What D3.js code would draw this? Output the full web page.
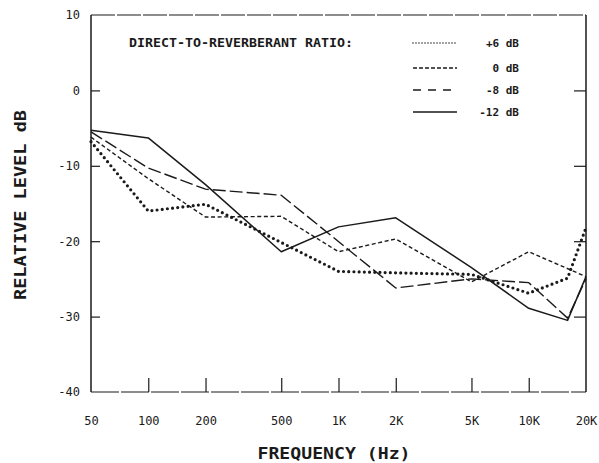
<!DOCTYPE html>
<html>
<head>
<meta charset="utf-8">
<script src="https://cdn.jsdelivr.net/npm/d3@7"></script>
<style>
  html, body { margin: 0; padding: 0; background: #fff; }
  svg { display: block; }
  text { font-family: "DejaVu Sans Mono", monospace; fill: #1a1a1a; }
</style>
</head>
<body>
<svg id="chart" width="599" height="463"></svg>
<script>
// Frequencies (Hz) at which levels were measured
const freqs = [50, 100, 200, 500, 1000, 2000, 5000, 10000, 16000, 20000];

// Relative level (dB) for each direct-to-reverberant ratio; null = no point
const plus6  = [-6.8, -16.0, -15.1, null, -24.0, -24.2, -24.4, -26.9, -24.9, -18.2];
const zero   = [-6.2, -11.7, -16.8, -16.7, -21.4, -19.7, -25.4, -21.4, null, -24.7];
const minus8 = [-5.5, -10.3, -13.1, -13.9, null, -26.2, -25.0, -25.5, -30.2, -25.0];
const minus12 = [-5.3, -6.3, -12.5, -21.4, -18.1, -16.9, -23.5, -28.9, -30.5, -24.7];

const seriesNames = ["+6 dB", "0 dB", "-8 dB", "-12 dB"];
const seriesValues = [plus6, zero, minus8, minus12];

const xTickValues = [50, 100, 200, 500, 1000, 2000, 5000, 10000, 20000];
const xTickLabels = ["50", "100", "200", "500", "1K", "2K", "5K", "10K", "20K"];
const yTickValues = [10, 0, -10, -20, -30, -40];

const styles = [
  { width: 3.2, dash: "0,5.2", cap: "round" },
  { width: 1.4, dash: "4,2.6", cap: "butt" },
  { width: 1.4, dash: "13,4", cap: "butt" },
  { width: 1.5, dash: null, cap: "butt" }
];
const legendStyles = [
  { width: 1.5, dash: "0,3", cap: "round" },
  { width: 1.4, dash: "4,2", cap: "butt" },
  { width: 1.3, dash: "8,7", cap: "butt" },
  { width: 1.5, dash: null, cap: "butt" }
];

const svg = d3.select("#chart");
const plotL = 91, plotR = 586, plotT = 15, plotB = 392;
const ink = "#1a1a1a";

const x = d3.scaleLog().domain([50, 20000]).range([plotL, plotR]);
const y = d3.scaleLinear().domain([-40, 10]).range([plotB, plotT]);

// Frame
const frame = svg.append("g").attr("stroke", ink).attr("fill", "none");
frame.append("line").attr("x1", plotL).attr("x2", plotL).attr("y1", plotT).attr("y2", plotB).attr("stroke-width", 1.5);
frame.append("line").attr("x1", plotR).attr("x2", plotR).attr("y1", plotT).attr("y2", plotB).attr("stroke-width", 1.5);
frame.append("line").attr("x1", plotL).attr("x2", plotR).attr("y1", plotT).attr("y2", plotT)
  .attr("stroke-width", 1.2).attr("stroke-dasharray", "24,2");
frame.append("line").attr("x1", plotL).attr("x2", plotR).attr("y1", plotB).attr("y2", plotB)
  .attr("stroke-width", 1.2).attr("stroke-dasharray", "28,2");

// Y axis (left) with inward ticks
const yAxisL = d3.axisLeft(y).tickValues(yTickValues).tickSize(-9).tickPadding(11)
  .tickFormat(d => d === 0 ? "0" : (d < 0 ? "-" + Math.abs(d) : String(d)));
const gL = svg.append("g").attr("transform", `translate(${plotL},0)`).call(yAxisL);
gL.select(".domain").remove();
gL.selectAll(".tick line").attr("stroke", ink).attr("stroke-width", 1.2)
  .filter(d => d === 10 || d === -40).remove();
gL.selectAll(".tick text").attr("font-size", 12).attr("fill", ink).attr("font-family", "DejaVu Sans Mono");

// Y axis (right) inward ticks
const yAxisR = d3.axisRight(y).tickValues([0, -10, -20, -30]).tickSize(-12).tickFormat("");
const gR = svg.append("g").attr("transform", `translate(${plotR},0)`).call(yAxisR);
gR.select(".domain").remove();
gR.selectAll(".tick line").attr("stroke", ink).attr("stroke-width", 1.2);

// X axis with inward ticks
const xAxis = d3.axisBottom(x).tickValues(xTickValues).tickSize(-14).tickPadding(24)
  .tickFormat((d, i) => xTickLabels[i]);
const gX = svg.append("g").attr("transform", `translate(0,${plotB})`).call(xAxis);
gX.select(".domain").remove();
gX.selectAll(".tick line").attr("stroke", ink).attr("stroke-width", 1.2)
  .filter(d => d === 50 || d === 20000).remove();
gX.selectAll(".tick text").attr("font-size", 12).attr("fill", ink).attr("font-family", "DejaVu Sans Mono");

// Axis titles
svg.append("text")
  .attr("transform", `translate(26,205) rotate(-90)`)
  .attr("text-anchor", "middle")
  .attr("font-size", 16).attr("font-weight", "bold")
  .attr("textLength", 190).attr("lengthAdjust", "spacingAndGlyphs")
  .text("RELATIVE LEVEL dB");
svg.append("text")
  .attr("x", 334).attr("y", 459)
  .attr("text-anchor", "middle")
  .attr("font-size", 15).attr("font-weight", "bold")
  .attr("textLength", 153).attr("lengthAdjust", "spacingAndGlyphs")
  .text("FREQUENCY  (Hz)");

// Data lines
const line = d3.line().x(d => x(d.f)).y(d => y(d.v));
seriesValues.forEach((vals, i) => {
  const pts = freqs.map((f, j) => ({ f, v: vals[j] })).filter(d => d.v !== null);
  const s = styles[i];
  svg.append("path")
    .datum(pts)
    .attr("d", line)
    .attr("fill", "none")
    .attr("stroke", ink)
    .attr("stroke-width", s.width)
    .attr("stroke-linecap", s.cap)
    .attr("stroke-linejoin", "round")
    .attr("stroke-dasharray", s.dash);
});

// Legend
svg.append("text")
  .attr("x", 129).attr("y", 47)
  .attr("font-size", 12).attr("font-weight", "bold")
  .attr("textLength", 224).attr("lengthAdjust", "spacingAndGlyphs")
  .text("DIRECT-TO-REVERBERANT RATIO:");
const legendRows = [43, 68, 90, 112];
seriesNames.forEach((name, i) => {
  const s = legendStyles[i];
  svg.append("line")
    .attr("x1", 413).attr("x2", 457)
    .attr("y1", legendRows[i]).attr("y2", legendRows[i])
    .attr("stroke", ink)
    .attr("stroke-width", s.width)
    .attr("stroke-linecap", s.cap)
    .attr("stroke-dasharray", s.dash);
  svg.append("text")
    .attr("x", 519).attr("y", legendRows[i] + 4)
    .attr("text-anchor", "end")
    .attr("font-size", 11).attr("font-weight", "bold")
    .text(name);
});
</script>
</body>
</html>
